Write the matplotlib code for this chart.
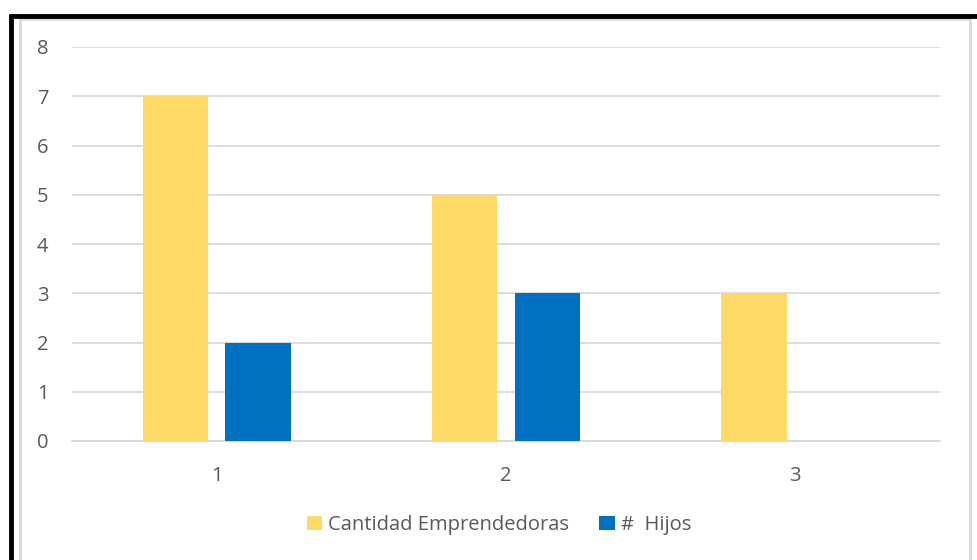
import matplotlib
matplotlib.use("Agg")
import matplotlib.pyplot as plt
import numpy as np
from matplotlib.patches import Rectangle
from matplotlib.lines import Line2D

categories = ["1", "2", "3"]
emprendedoras = [7, 5, 3]
hijos = [2, 3, 0]
series_names = ["Cantidad Emprendedoras", "#  Hijos"]
yticks = [0, 1, 2, 3, 4, 5, 6, 7, 8]

plt.rcParams['font.family'] = ['Open Sans', 'DejaVu Sans']

W, H = 978, 560
fig = plt.figure(figsize=(W/100, H/100), dpi=100)

# Frame decorations
fig.add_artist(Rectangle((20/W, -0.1), (970-20)/W, 1.1 - 19/H, transform=fig.transFigure,
                         fill=False, edgecolor="#D9D9D9", linewidth=2))
fig.add_artist(Line2D([11/W, 11/W], [0, 1 - 14/H], transform=fig.transFigure, color="black", linewidth=3.5, solid_capstyle="butt"))
fig.add_artist(Line2D([9/W, 1], [1 - 16/H, 1 - 16/H], transform=fig.transFigure, color="black", linewidth=3.5, solid_capstyle="butt"))

ax = fig.add_axes([72/W, 1 - 441/H, (940-72)/W, (441-47)/H])
x = np.arange(len(categories))
bw = 0.225
off = 0.143
ax.bar(x - off, emprendedoras, bw, color="#FFD966", label=series_names[0], zorder=3)
ax.bar(x + off, hijos, bw, color="#0070C0", label=series_names[1], zorder=3)

ax.set_xlim(-0.5, 2.5)
ax.set_ylim(0, 8)
ax.set_yticks(yticks)
ax.set_xticks(x)
ax.set_xticklabels(categories)
ax.grid(axis="y", color="#D9D9D9", linewidth=1.3, zorder=0)
for s in ["top", "right", "left"]:
    ax.spines[s].set_visible(False)
ax.spines["bottom"].set_color("#D9D9D9")
ax.spines["bottom"].set_linewidth(1.3)
ax.tick_params(axis="both", length=0, colors="#595959", labelsize=14.5)
ax.tick_params(axis="y", pad=17)
ax.tick_params(axis="x", pad=18)

leg = fig.legend(loc="center", bbox_to_anchor=(499/W, 1 - 525/H), ncol=2, frameon=False,
                 fontsize=14.5, handlelength=0.75, handleheight=0.75, handletextpad=0.3,
                 columnspacing=1.5, labelcolor="#595959")

fig.savefig("out.png", dpi=100)
